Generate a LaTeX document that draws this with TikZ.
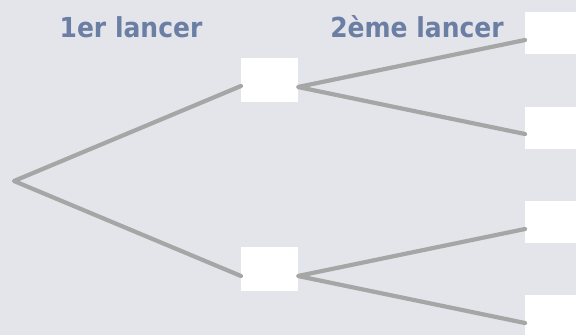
\documentclass[tikz,border=0pt]{standalone}
\usepackage{fontspec}
\setmainfont{DejaVu Sans}
\definecolor{bg}{HTML}{E4E5EA}
\definecolor{edge}{HTML}{A6A6A6}
\definecolor{lab}{HTML}{6B7EA3}
\begin{document}
\begin{tikzpicture}[x=1pt,y=-1pt,
  box/.style={fill=white,draw=none},
  branch/.style={draw=edge,line width=4.2pt,line cap=round,line join=round},
  title/.style={text=lab,font=\fontsize{25}{28}\selectfont\bfseries,inner sep=0pt,anchor=base,yscale=1.1}]
\fill[bg] (0,0) rectangle (576,335);
\useasboundingbox (0,0) rectangle (576,335);
% boxes
\fill[box] (241,58) rectangle (298,102);
\fill[box] (241,247) rectangle (298,291);
\fill[box] (525,12) rectangle (580,54);
\fill[box] (525,107) rectangle (580,149);
\fill[box] (525,201) rectangle (580,243);
\fill[box] (525,295) rectangle (580,340);
% connection points
\coordinate (root) at (14,181);
\coordinate (a1in) at (241,86);
\coordinate (a1out) at (298,87);
\coordinate (a2in) at (241,276);
\coordinate (a2out) at (298,276);
\coordinate (c1) at (525,40);
\coordinate (c2) at (525,134);
\coordinate (c3) at (525,229);
\coordinate (c4) at (525,323);
\draw[branch] (a1in) -- (root) -- (a2in);
\draw[branch] (c1) -- (a1out) -- (c2);
\draw[branch] (c3) -- (a2out) -- (c4);
\node[title] (t1) at (131,37) {1er lancer};
\node[title] (t2) at (417,37) {2ème lancer};
\end{tikzpicture}
\end{document}
